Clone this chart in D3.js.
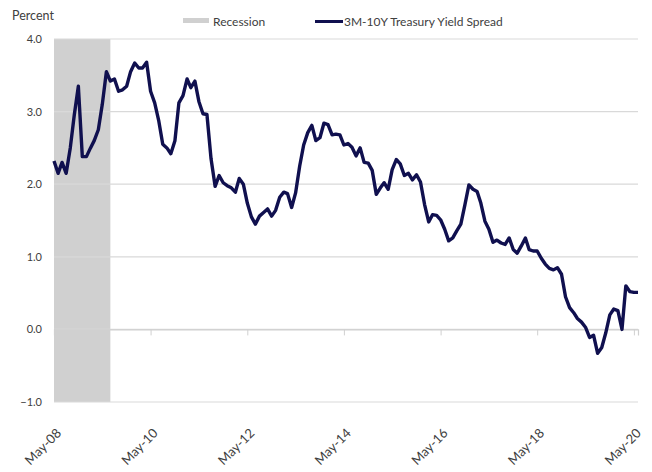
<!DOCTYPE html>
<html>
<head>
<meta charset="utf-8">
<script src="https://d3js.org/d3.v7.min.js"></script>
<style>
  body { margin: 0; background: #fff; }
  text { font-family: "Century Gothic", Lato, sans-serif; fill: #404040; }
</style>
</head>
<body>
<div id="chart"></div>
<script>
// monthly 3M-10Y spread, first value = May 2008
const startMonth = "2008-05";
const spread = [
  2.32, 2.15, 2.30, 2.15, 2.50, 2.95, 3.35, 2.38, 2.38, 2.50, 2.60, 2.75,
  3.10, 3.55, 3.42, 3.45, 3.28, 3.30, 3.35, 3.55, 3.67, 3.60, 3.60, 3.68,
  3.28, 3.12, 2.88, 2.55, 2.50, 2.42, 2.60, 3.12, 3.22, 3.45, 3.33, 3.42,
  3.14, 2.97, 2.96, 2.35, 1.97, 2.12, 2.02, 1.98, 1.95, 1.89, 2.08, 2.00,
  1.74, 1.55, 1.45, 1.56, 1.61, 1.66, 1.56, 1.64, 1.82, 1.89, 1.87, 1.68,
  1.88, 2.25, 2.54, 2.71, 2.81, 2.60, 2.64, 2.84, 2.82, 2.68, 2.69, 2.68,
  2.54, 2.56, 2.51, 2.39, 2.50, 2.30, 2.29, 2.19, 1.86, 1.95, 2.02, 1.93,
  2.20, 2.34, 2.28, 2.12, 2.15, 2.06, 2.13, 2.03, 1.72, 1.48, 1.58, 1.57,
  1.51, 1.38, 1.22, 1.26, 1.36, 1.45, 1.72, 1.99, 1.93, 1.90, 1.74, 1.49,
  1.38, 1.20, 1.23, 1.19, 1.17, 1.26, 1.10, 1.05, 1.15, 1.26, 1.10, 1.08,
  1.08, 0.98, 0.90, 0.84, 0.82, 0.85, 0.76, 0.45, 0.30, 0.23, 0.15, 0.10,
  0.03, -0.11, -0.08, -0.33, -0.25, -0.05, 0.20, 0.28, 0.26, 0.00, 0.60, 0.52,
  0.51, 0.51
];
const recession = ["2008-05", "2009-07"];
const xTickLabels = ["May-08", "May-10", "May-12", "May-14", "May-16", "May-18", "May-20"];
const yTicks = [-1, 0, 1, 2, 3, 4];

const width = 652, height = 472;
const margin = {top: 39, right: 14, bottom: 70, left: 54};

const parseMonth = d3.timeParse("%Y-%m");
const parseLabel = d3.timeParse("%b-%y");
const start = parseMonth(startMonth);
const data = spread.map((v, i) => ({date: d3.timeMonth.offset(start, i), value: v}));

const svg = d3.select("#chart").append("svg")
    .attr("width", width)
    .attr("height", height);

const x = d3.scaleTime()
    .domain(d3.extent(data, d => d.date))
    .range([margin.left, width - margin.right]);
const y = d3.scaleLinear()
    .domain([-1, 4])
    .range([height - margin.bottom, margin.top]);

// recession band
svg.append("rect")
    .attr("x", x(parseMonth(recession[0])))
    .attr("y", y(4))
    .attr("width", x(parseMonth(recession[1])) - x(parseMonth(recession[0])))
    .attr("height", y(-1) - y(4))
    .attr("fill", "#d0d0d0");

// gridlines
svg.append("g")
    .selectAll("line")
    .data(yTicks)
    .join("line")
    .attr("x1", margin.left)
    .attr("x2", width - margin.right)
    .attr("y1", d => y(d))
    .attr("y2", d => y(d))
    .attr("stroke", "#d9d9d9")
    .attr("stroke-width", 1.2);

// y labels
svg.append("g")
    .attr("transform", `translate(${margin.left - 9},0)`)
    .call(d3.axisLeft(y).tickValues(yTicks).tickSize(0).tickFormat(d3.format(".1f")))
    .call(g => g.select(".domain").remove())
    .call(g => g.selectAll("text")
        .attr("font-size", 11)
        .attr("font-family", null)
        .attr("fill", "#404040"));

// x axis sits on zero, labels pushed to the bottom
const tickDates = xTickLabels.map(parseLabel);
svg.append("g")
    .attr("transform", `translate(0,${y(0)})`)
    .call(d3.axisBottom(x).tickValues(tickDates).tickSize(6).tickFormat(""))
    .call(g => g.select(".domain").attr("stroke", "#d0d0d0").attr("stroke-width", 1.2))
    .call(g => g.selectAll(".tick line").attr("stroke", "#d0d0d0"));

svg.append("g")
    .selectAll("text")
    .data(tickDates)
    .join("text")
    .attr("transform", d => `translate(${x(d) + 8},${y(-1) + 32}) rotate(-45)`)
    .attr("text-anchor", "end")
    .attr("font-size", 13)
    .text((d, i) => xTickLabels[i]);

// series line
svg.append("path")
    .datum(data)
    .attr("fill", "none")
    .attr("stroke", "#10104f")
    .attr("stroke-width", 3.4)
    .attr("stroke-linejoin", "round")
    .attr("d", d3.line().x(d => x(d.date)).y(d => y(d.value)));

// title + legend
svg.append("text")
    .attr("x", 12)
    .attr("y", 20)
    .attr("font-size", 12.5)
    .text("Percent");

svg.append("rect")
    .attr("x", 183).attr("y", 18)
    .attr("width", 26).attr("height", 5)
    .attr("fill", "#d0d0d0");
svg.append("text")
    .attr("x", 213).attr("y", 26)
    .attr("font-size", 12)
    .text("Recession");

svg.append("line")
    .attr("x1", 315).attr("x2", 343)
    .attr("y1", 21.5).attr("y2", 21.5)
    .attr("stroke", "#10104f")
    .attr("stroke-width", 3);
svg.append("text")
    .attr("x", 344).attr("y", 26)
    .attr("font-size", 12)
    .text("3M-10Y Treasury Yield Spread");
</script>
</body>
</html>
